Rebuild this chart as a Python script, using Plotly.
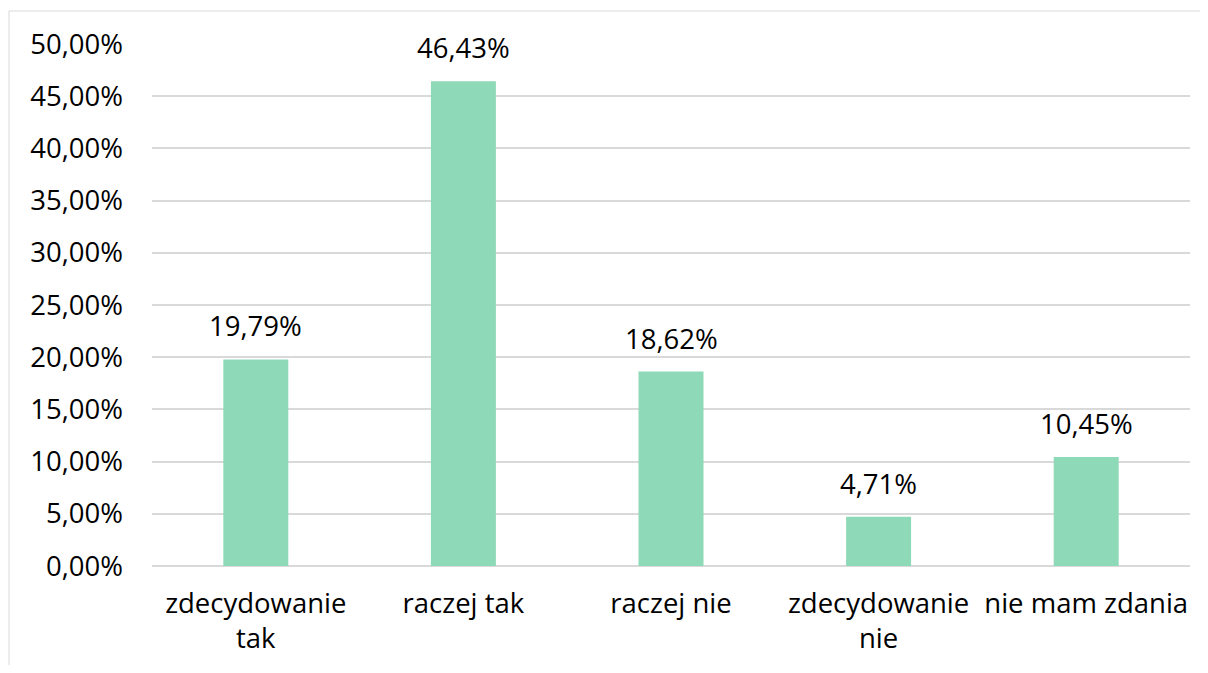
import plotly.graph_objects as go

categories = ["zdecydowanie<br>tak", "raczej tak", "raczej nie", "zdecydowanie<br>nie", "nie mam zdania"]
values = [19.79, 46.43, 18.62, 4.71, 10.45]
tick_vals = [0, 5, 10, 15, 20, 25, 30, 35, 40, 45, 50]
tick_text = [f"{t:.2f}".replace(".", ",") + "%" for t in tick_vals]

FONT = "Open Sans"
FS = 27.5
BAR = "#8ED9B7"
GRID = "#D9D9D9"

fig = go.Figure()
fig.add_trace(go.Bar(
    x=categories, y=values,
    marker=dict(color=BAR, line=dict(width=0)),
    hoverinfo="skip",
))

for c, v in zip(categories, values):
    fig.add_annotation(
        x=c, y=v, xref="x", yref="y",
        text=f"{v:.2f}".replace(".", ",") + "%",
        showarrow=False, yanchor="bottom", yshift=13,
        font=dict(family=FONT, size=FS, color="#000000"),
    )

# page body has an 8px margin; keep the figure inside the window with no scrollbars
OFF = 8
W, H = 1208 - 2 * OFF, 673 - 2 * OFF
L, T = 152 - OFF, 44 - OFF
R = W - (1190 - OFF)
B = H - (566 - OFF)
pw, ph = W - L - R, H - T - B

# chart-area border: only its top and left edges fall inside the picture
bx0 = (9 - OFF - L) / pw
by1 = (H - B - (11 - OFF)) / ph
fig.add_shape(type="line", xref="paper", yref="paper",
              x0=bx0, x1=(W - L) / pw, y0=by1, y1=by1,
              line=dict(color=GRID, width=1), layer="below")
fig.add_shape(type="line", xref="paper", yref="paper",
              x0=bx0, x1=bx0, y0=by1, y1=-(B / ph),
              line=dict(color=GRID, width=1), layer="below")

fig.update_layout(
    width=W, height=H,
    margin=dict(l=L, r=R, t=T, b=B, pad=0),
    paper_bgcolor="white", plot_bgcolor="white",
    bargap=0.687,
    showlegend=False,
    font=dict(family=FONT, size=FS, color="#000000"),
    xaxis=dict(
        showgrid=False, showline=False, zeroline=False,
        ticks="", tickfont=dict(family=FONT, size=FS, color="#000000"),
        ticklabelstandoff=18,
    ),
    yaxis=dict(
        range=[0, 50], tickvals=tick_vals, ticktext=tick_text,
        showgrid=True, gridcolor=GRID, gridwidth=1.5,
        zeroline=True, zerolinecolor=GRID, zerolinewidth=1.5,
        showline=False, ticks="",
        ticklabelstandoff=28,
        tickfont=dict(family=FONT, size=FS, color="#000000"),
    ),
)

fig.write_html("out.html")
